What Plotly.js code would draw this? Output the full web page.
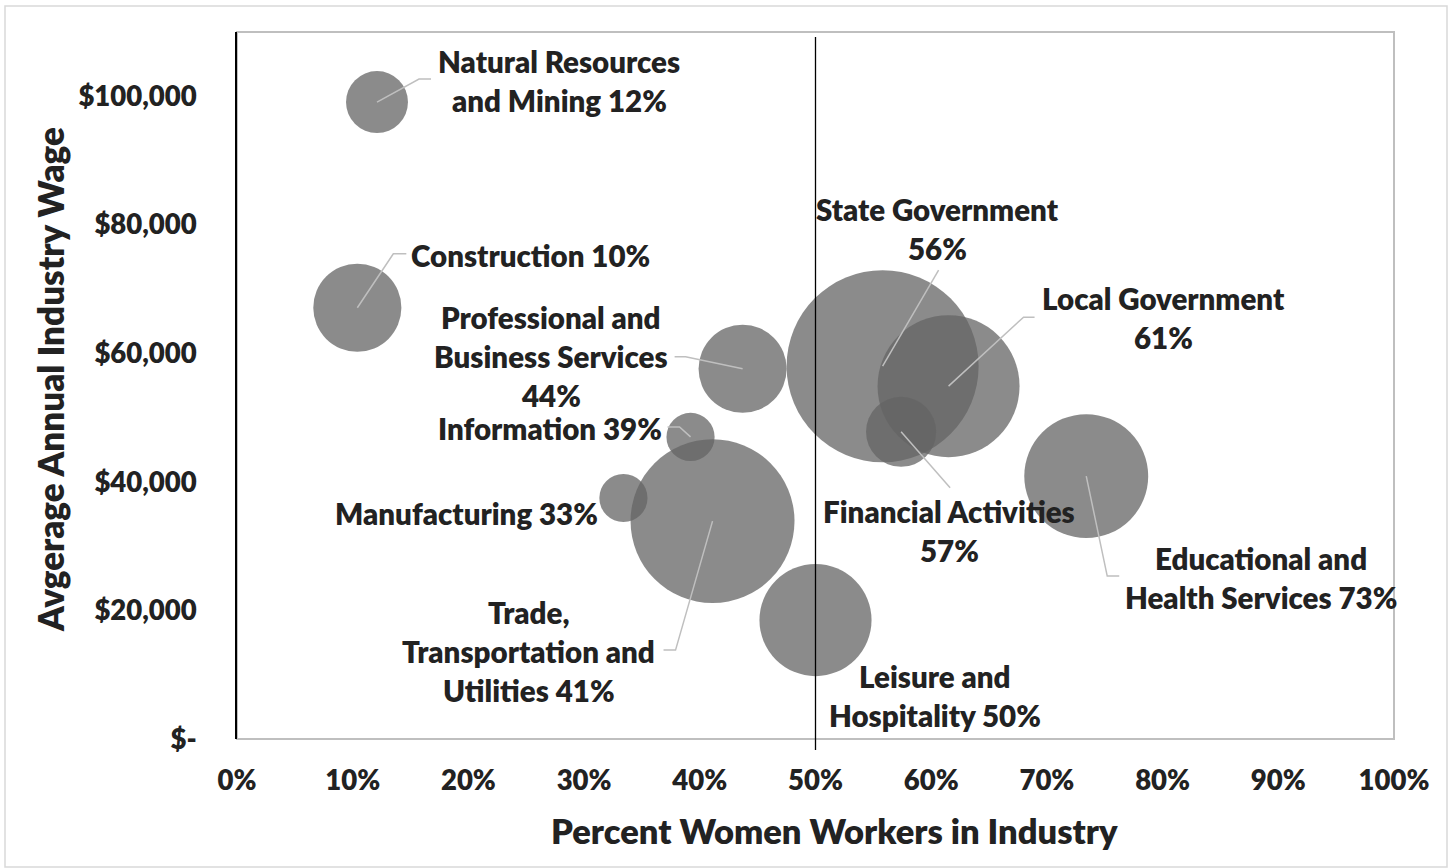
<!DOCTYPE html>
<html>
<head>
<meta charset="utf-8">
<script src="https://cdn.plot.ly/plotly-3.0.1.min.js"></script>
<style>
html,body{margin:0;padding:0;background:#ffffff;}
#chart{width:1452px;height:868px;}
</style>
</head>
<body>
<div id="chart"></div>
<script>
// ---------------- DATA ----------------
const industries = [
  'Natural Resources and Mining', 'Construction', 'Professional and Business Services',
  'Information', 'Manufacturing', 'Trade, Transportation and Utilities',
  'Leisure and Hospitality', 'State Government', 'Local Government',
  'Financial Activities', 'Educational and Health Services'
];
const pctWomen   = [0.121, 0.104, 0.437, 0.392, 0.334, 0.411, 0.500, 0.558, 0.615, 0.574, 0.734];
const avgWage    = [99100, 67100, 57600, 47000, 37500, 33900, 18500, 58000, 54900, 47800, 40900];
const bubbleSize = [96, 194, 194, 58, 58, 672, 314, 922, 504, 123, 384];
const labelLines = [
  ['Natural Resources', 'and Mining 12%'],
  ['Construction 10%'],
  ['Professional and', 'Business Services', '44%'],
  ['Information 39%'],
  ['Manufacturing 33%'],
  ['Trade,', 'Transportation and', 'Utilities 41%'],
  ['Leisure and', 'Hospitality 50%'],
  ['State Government', '56%'],
  ['Local Government', '61%'],
  ['Financial Activities', '57%'],
  ['Educational and', 'Health Services 73%']
];
const parityShare = 0.5;
const yTickVals = [0, 20000, 40000, 60000, 80000, 100000];
const yTickText = ['$-', '$20,000', '$40,000', '$60,000', '$80,000', '$100,000'];
const xTitle = 'Percent Women Workers in Industry';
const yTitle = 'Avgerage Annual Industry Wage';

// ---------------- LAYOUT HELPERS ----------------
const W = 1452, H = 868;
const M = {l: 237, r: 58, t: 32, b: 129};
const PW = W - M.l - M.r, PH = H - M.t - M.b;
const pxX = px => (px - M.l) / PW;
const pxY = py => (H - M.b - py) / PH;

// label offsets in screen pixels (dx right, dy down) from bubble centre, and leader polyline
const labelPos = [
  {dx: 182, dy: -21, leader: [[42, -23], [54, -23]]},
  {dx: 173, dy: -52, leader: [[36, -54], [49, -54]]},
  {dx: -192, dy: -12, leader: [[-57, -12], [-68, -12]]},
  {dx: -141, dy: -8, leader: [[-11, -10], [-23, -10]]},
  {dx: -157, dy: 16, leader: null},
  {dx: -184, dy: 130, leader: [[-37, 129], [-49, 129]]},
  {dx: 119, dy: 76, leader: null},
  {dx: 55, dy: -137, leader: [[56, -96]]},
  {dx: 215, dy: -68, leader: [[75, -69], [86, -69]]},
  {dx: 48, dy: 99, leader: [[49, 56]]},
  {dx: 175, dy: 102, leader: [[21, 100], [33, 100]]}
];
const LINE_H = 39;
const txtColor = '#222222';
const FONT = 'Lato, "Open Sans", sans-serif';
const WEIGHT = 800;

const annotations = [];
const shapes = [];

industries.forEach((name, i) => {
  const lp = labelPos[i];
  const lines = labelLines[i];
  const n = lines.length;
  lines.forEach((ln, k) => {
    const dyLine = lp.dy + (k - (n - 1) / 2) * LINE_H;
    annotations.push({
      x: pctWomen[i], y: avgWage[i], xref: 'x', yref: 'y',
      xshift: lp.dx, yshift: -dyLine,
      text: ln, showarrow: false, xanchor: 'center', yanchor: 'middle',
      font: {family: FONT, size: 29.5, color: txtColor, weight: WEIGHT}
    });
  });
  if (lp.leader) {
    let path = 'M0,0';
    lp.leader.forEach(p => { path += ' L' + p[0] + ',' + (-p[1]); });
    shapes.push({
      type: 'path', xref: 'x', yref: 'y',
      xsizemode: 'pixel', ysizemode: 'pixel',
      xanchor: pctWomen[i], yanchor: avgWage[i],
      path: path, line: {color: '#bfbfbf', width: 1.5}, layer: 'above'
    });
  }
});

// axis titles
annotations.push({
  xref: 'paper', yref: 'paper', x: pxX(834), y: pxY(830),
  text: xTitle, showarrow: false, xanchor: 'center', yanchor: 'middle',
  font: {family: FONT, size: 34.5, color: txtColor, weight: WEIGHT}
});
annotations.push({
  xref: 'paper', yref: 'paper', x: pxX(50), y: pxY(380),
  text: yTitle, showarrow: false, textangle: -90, xanchor: 'center', yanchor: 'middle',
  font: {family: FONT, size: 35, color: txtColor, weight: WEIGHT}
});

// outer chart border
shapes.push({
  type: 'rect', xref: 'paper', yref: 'paper',
  x0: pxX(5), x1: pxX(1447), y0: pxY(867), y1: pxY(6),
  line: {color: '#d9d9d9', width: 1.5}, fillcolor: 'rgba(0,0,0,0)', layer: 'below'
});
// plot area border
shapes.push({
  type: 'rect', xref: 'paper', yref: 'paper', x0: 0, x1: 1, y0: 0, y1: 1,
  line: {color: '#bfbfbf', width: 2}, fillcolor: 'rgba(0,0,0,0)', layer: 'below'
});
// 50% parity line
shapes.push({
  type: 'line', xref: 'x', yref: 'paper',
  x0: parityShare, x1: parityShare, y0: pxY(750), y1: pxY(37),
  line: {color: '#000000', width: 1.3}, layer: 'above'
});

const trace = {
  type: 'scatter', mode: 'markers',
  x: pctWomen, y: avgWage, text: industries,
  marker: {
    size: bubbleSize, sizemode: 'area', sizeref: 0.05,
    color: 'rgb(100,100,100)', opacity: 0.75, line: {width: 0}
  },
  cliponaxis: false, hoverinfo: 'text'
};

const layout = {
  width: W, height: H,
  margin: {l: M.l, r: M.r, t: M.t, b: M.b, pad: 0},
  paper_bgcolor: '#ffffff', plot_bgcolor: '#ffffff',
  showlegend: false, hovermode: false,
  xaxis: {
    range: [0, 1], dtick: 0.1, tick0: 0, tickformat: '.0%',
    showgrid: false, zeroline: false, showline: false, ticks: '',
    ticklabelstandoff: 22,
    tickfont: {family: FONT, size: 27.5, color: txtColor, weight: WEIGHT}
  },
  yaxis: {
    range: [0, 110000], tickvals: yTickVals, ticktext: yTickText,
    showgrid: false, zeroline: false, showline: true, linecolor: '#000000', linewidth: 1.8,
    ticks: '', ticklabelstandoff: 33,
    tickfont: {family: FONT, size: 27.5, color: txtColor, weight: WEIGHT}
  },
  annotations: annotations,
  shapes: shapes
};

Plotly.newPlot('chart', [trace], layout, {displayModeBar: false, staticPlot: true});
</script>
</body>
</html>
